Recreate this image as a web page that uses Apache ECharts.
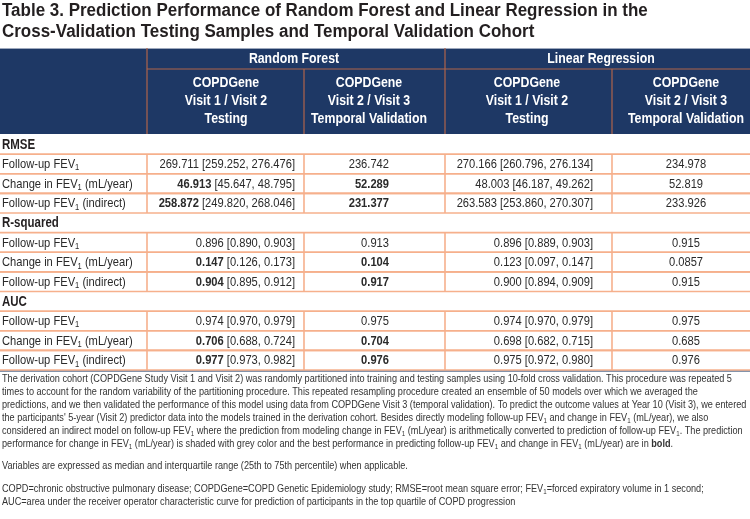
<!DOCTYPE html>
<html><head><meta charset="utf-8">
<script src="https://cdn.jsdelivr.net/npm/echarts@6/dist/echarts.min.js"></script>
<style>html,body{margin:0;padding:0;background:#fff}#c{width:750px;height:519px}</style>
</head><body><div id="c"></div>
<script>
// ---------------- DATA ----------------
const titleLines = [
  'Table 3. Prediction Performance of Random Forest and Linear Regression in the',
  'Cross-Validation Testing Samples and Temporal Validation Cohort'
];
const modelGroups = ['Random Forest', 'Linear Regression'];
const subHeaders = [
  ['COPDGene', 'Visit 1 / Visit 2', 'Testing'],
  ['COPDGene', 'Visit 2 / Visit 3', 'Temporal Validation'],
  ['COPDGene', 'Visit 1 / Visit 2', 'Testing'],
  ['COPDGene', 'Visit 2 / Visit 3', 'Temporal Validation']
];
const metrics = ['RMSE', 'R-squared', 'AUC'];
const outcomes = ['Follow-up FEV1', 'Change in FEV1 (mL/year)', 'Follow-up FEV1 (indirect)'];

// rows: metric, columns: outcome
const rfTestMedian = [[269.711, 46.913, 258.872], [0.896, 0.147, 0.904], [0.974, 0.706, 0.977]];
const rfTestQ1     = [[259.252, 45.647, 249.820], [0.890, 0.126, 0.895], [0.970, 0.688, 0.973]];
const rfTestQ3     = [[276.476, 48.795, 268.046], [0.903, 0.173, 0.912], [0.979, 0.724, 0.982]];
const rfTemporal   = [[236.742, 52.289, 231.377], [0.913, 0.104, 0.917], [0.975, 0.704, 0.976]];
const lrTestMedian = [[270.166, 48.003, 263.583], [0.896, 0.123, 0.900], [0.974, 0.698, 0.975]];
const lrTestQ1     = [[260.796, 46.187, 253.860], [0.889, 0.097, 0.894], [0.970, 0.682, 0.972]];
const lrTestQ3     = [[276.134, 49.262, 270.307], [0.903, 0.147, 0.909], [0.979, 0.715, 0.980]];
const lrTemporal   = [[234.978, 52.819, 233.926], [0.915, 0.0857, 0.915], [0.975, 0.685, 0.976]];
const boldRfTest     = [[false, true, true], [false, true, true], [false, true, true]];
const boldRfTemporal = [[false, true, true], [false, true, true], [false, true, true]];

const footnotes = [
  'The derivation cohort (COPDGene Study Visit 1 and Visit 2) was randomly partitioned into training and testing samples using 10-fold cross validation. This procedure was repeated 5',
  'times to account for the random variability of the partitioning procedure. This repeated resampling procedure created an ensemble of 50 models over which we averaged the',
  'predictions, and we then validated the performance of this model using data from COPDGene Visit 3 (temporal validation). To predict the outcome values at Year 10 (Visit 3), we entered',
  "the participants' 5-year (Visit 2) predictor data into the models trained in the derivation cohort. Besides directly modeling follow-up FEV1 and change in FEV1 (mL/year), we also",
  'considered an indirect model on follow-up FEV1 where the prediction from modeling change in FEV1 (mL/year) is arithmetically converted to prediction of follow-up FEV1. The prediction',
  'performance for change in FEV1 (mL/year) is shaded with grey color and the best performance in predicting follow-up FEV1 and change in FEV1 (mL/year) are in **bold**.',
  'Variables are expressed as median and interquartile range (25th to 75th percentile) when applicable.',
  'COPD=chronic obstructive pulmonary disease; COPDGene=COPD Genetic Epidemiology study; RMSE=root mean square error; FEV1=forced expiratory volume in 1 second;',
  'AUC=area under the receiver operator characteristic curve for prediction of participants in the top quartile of COPD progression'
];

// ---------------- LAYOUT / STYLE ----------------
const FONT = "'Liberation Sans', Arial, sans-serif";
const SX = 0.82;        // narrow (condensed) rendering for table text
const SX_TITLE = 0.97;
const SX_FOOT = 0.83;
const NAVY = '#1e3865';
const ORANGE = '#f6b08c';
const HEAD_LINE = '#b0644a';
const TEXT = '#2a2a2a';
const colEdges = [147, 304, 445, 612];
const groupCenters = [294, 601];
const subCenters = [226, 369, 527, 686];
const cellAnchors = [[2, 'left'], [295, 'right'], [389, 'right'], [593, 'right'], [686, 'center']];
const footY = [379, 392, 405, 418, 431, 444, 466, 489, 502];
const titleY = [11.2, 31.7];

function fmt(v) {
  const s = String(v);
  const d = s.indexOf('.') >= 0 ? s.length - s.indexOf('.') - 1 : 0;
  return v.toFixed(Math.max(3, d));
}
function esc(s) { return s.replace(/FEV1/g, 'FEV{s|1}'); }
function richSet(size, color) {
  return {
    s: { fontSize: size * 0.68, fontFamily: FONT, fill: color, lineHeight: 6, verticalAlign: 'bottom' },
    b: { fontSize: size, fontFamily: FONT, fontWeight: 'bold', fill: color, lineHeight: size + 2 }
  };
}

// body rows
const rowKeys = [];
metrics.forEach((m, mi) => { rowKeys.push('S' + mi); outcomes.forEach((o, oi) => rowKeys.push('R' + mi + '_' + oi)); });

function cellTexts(mi, oi) {
  const b1 = boldRfTest[mi][oi], b2 = boldRfTemporal[mi][oi];
  const rf = (b1 ? '{b|' + fmt(rfTestMedian[mi][oi]) + '}' : fmt(rfTestMedian[mi][oi])) +
    ' [' + fmt(rfTestQ1[mi][oi]) + ', ' + fmt(rfTestQ3[mi][oi]) + ']';
  const rft = b2 ? '{b|' + fmt(rfTemporal[mi][oi]) + '}' : fmt(rfTemporal[mi][oi]);
  const lr = fmt(lrTestMedian[mi][oi]) + ' [' + fmt(lrTestQ1[mi][oi]) + ', ' + fmt(lrTestQ3[mi][oi]) + ']';
  const lrt = fmt(lrTemporal[mi][oi]);
  return [esc(outcomes[oi]), rf, rft, lr, lrt];
}

function renderBody(params, api) {
  const r = params.dataIndex;
  const key = rowKeys[r];
  const c = api.coord([0, r]);
  const h = api.size([0, 1])[1];
  const x0 = api.coord([0, r])[0], x1 = api.coord([750, r])[0];
  const yc = c[1], top = yc - h / 2, bot = yc + h / 2;
  const children = [];
  if (key[0] === 'S') {
    const mi = +key[1];
    children.push({ type: 'text', x: api.coord([2, r])[0], y: yc + 0.5, scaleX: SX,
      style: { text: metrics[mi], fontSize: 14, fontWeight: 'bold', fontFamily: FONT, fill: '#231f20', align: 'left', verticalAlign: 'middle' } });
  } else {
    const mi = +key[1], oi = +key[3];
    [top, bot].forEach(y => children.push({ type: 'line', shape: { x1: x0, y1: y, x2: x1, y2: y }, style: { stroke: ORANGE, lineWidth: 1.6 } }));
    colEdges.forEach(e => { const x = api.coord([e, r])[0];
      children.push({ type: 'line', shape: { x1: x, y1: top, x2: x, y2: bot }, style: { stroke: ORANGE, lineWidth: 1.6 } }); });
    const texts = cellTexts(mi, oi);
    texts.forEach((t, i) => {
      children.push({ type: 'text', x: api.coord([cellAnchors[i][0], r])[0], y: yc + 0.5, scaleX: SX,
        style: { text: t, fontSize: 13.6, fontFamily: FONT, fill: TEXT, lineHeight: 16, align: cellAnchors[i][1], verticalAlign: 'middle', rich: richSet(13.6, TEXT) } });
    });
  }
  return { type: 'group', children };
}

function renderHeader(params, api) {
  const p0 = api.coord([0, 0]), p1 = api.coord([750, 86]);
  const split = api.coord([0, 21])[1];
  const children = [
    { type: 'rect', shape: { x: p0[0], y: p0[1], width: p1[0] - p0[0], height: p1[1] - p0[1] }, style: { fill: NAVY } },
    { type: 'line', shape: { x1: p0[0], y1: p0[1] + 0.5, x2: p1[0], y2: p0[1] + 0.5 }, style: { stroke: '#9ea9bd', lineWidth: 1 } },
    { type: 'line', shape: { x1: api.coord([colEdges[0], 0])[0], y1: split, x2: p1[0], y2: split }, style: { stroke: HEAD_LINE, lineWidth: 1.2 } }
  ];
  colEdges.forEach((e, i) => {
    const x = api.coord([e, 0])[0];
    const y0 = (i === 0 || i === 2) ? p0[1] : split;
    children.push({ type: 'line', shape: { x1: x, y1: y0, x2: x, y2: p1[1] }, style: { stroke: HEAD_LINE, lineWidth: 1.2 } });
  });
  modelGroups.forEach((g, i) => children.push({ type: 'text', x: api.coord([groupCenters[i], 0])[0], y: api.coord([0, 10.5])[1] + 0.5, scaleX: SX,
    style: { text: g, fontSize: 15, fontWeight: 'bold', fontFamily: FONT, fill: '#fff', align: 'center', verticalAlign: 'middle' } }));
  subHeaders.forEach((lines, i) => children.push({ type: 'text', x: api.coord([subCenters[i], 0])[0], y: api.coord([0, 52.5])[1] + 0.5, scaleX: SX,
    style: { text: lines.join('\n'), fontSize: 15, fontWeight: 'bold', fontFamily: FONT, fill: '#fff', lineHeight: 18, align: 'center', verticalAlign: 'middle' } }));
  return { type: 'group', children };
}

const chart = echarts.init(document.getElementById('c'), null, { renderer: 'canvas' });
chart.setOption({
  animation: false,
  backgroundColor: '#fff',
  grid: [
    { left: 0, right: 0, top: 48, height: 86 },
    { left: 0, right: 0, top: 134.5, height: 235.5 }
  ],
  xAxis: [
    { gridIndex: 0, type: 'value', min: 0, max: 750, show: false },
    { gridIndex: 1, type: 'value', min: 0, max: 750, show: false }
  ],
  yAxis: [
    { gridIndex: 0, type: 'value', min: 0, max: 86, inverse: true, show: false },
    { gridIndex: 1, type: 'category', data: rowKeys, inverse: true, show: false }
  ],
  series: [
    { type: 'custom', xAxisIndex: 0, yAxisIndex: 0, renderItem: renderHeader, data: [[0, 0]], silent: true, clip: false },
    { type: 'custom', xAxisIndex: 1, yAxisIndex: 1, renderItem: renderBody, data: rowKeys.map((k, i) => [0, i]), silent: true, clip: false, encode: { x: 0, y: 1 } }
  ],
  graphic: [
    { type: 'line', shape: { x1: 0, y1: 371, x2: 750, y2: 371 }, style: { stroke: '#5b6f8e', lineWidth: 1.5 } }
  ].concat(titleLines.map((t, i) => ({
    type: 'text', x: 2, y: titleY[i], scaleX: SX_TITLE,
    style: { text: t, fontSize: 17.5, fontWeight: 'bold', fontFamily: FONT, fill: '#231f20', align: 'left', verticalAlign: 'middle' }
  }))).concat(footnotes.map((t, i) => ({
    type: 'text', x: 2, y: footY[i], scaleX: SX_FOOT,
    style: { text: esc(t).replace(/\*\*(.+?)\*\*/g, '{b|$1}'), fontSize: 11, fontFamily: FONT, fill: '#333', lineHeight: 13,
      align: 'left', verticalAlign: 'middle', rich: richSet(11, '#333') }
  })))
});
</script></body></html>
